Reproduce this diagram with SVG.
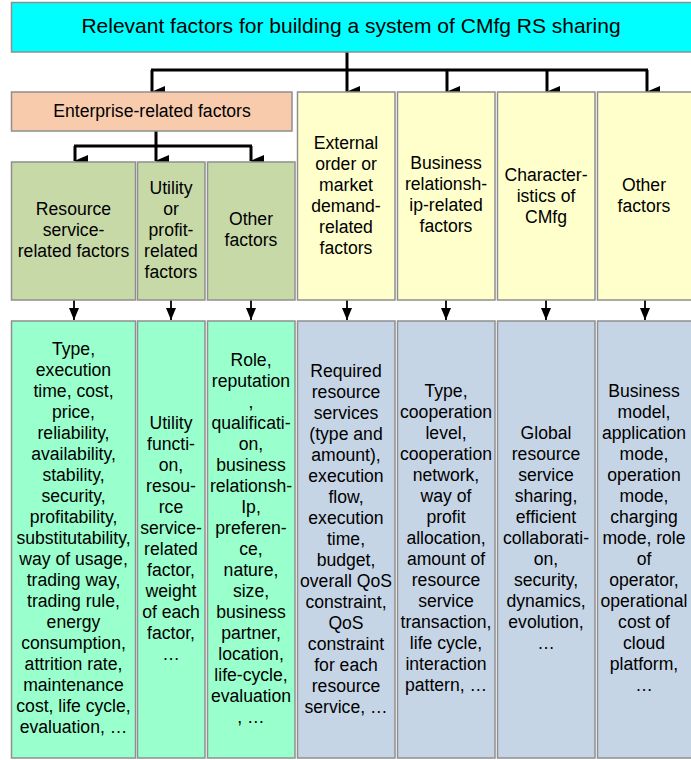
<svg xmlns="http://www.w3.org/2000/svg" width="691" height="760" viewBox="0 0 691 760">
<defs>
<marker id="ah" markerUnits="userSpaceOnUse" markerWidth="12" markerHeight="14" refX="6" refY="13" orient="auto-start-reverse" viewBox="0 0 12 14">
<path d="M0,0 L12,0 L6,14 Z" fill="#000"/>
</marker>
<marker id="ahs" markerUnits="userSpaceOnUse" markerWidth="10" markerHeight="12" refX="5" refY="12" viewBox="0 0 10 12">
<path d="M0,0 L10,0 L5,12 Z" fill="#000"/>
</marker>
</defs>
<style>
.box{stroke:#8f8f8f;stroke-width:1.5}
.top{fill:#00FFFF}
.ent{fill:#F8CBAD}
.olv{fill:#C8D9A8}
.yel{fill:#FFFFCC}
.mint{fill:#99FFCC}
.blu{fill:#C6D5E6}
text{font-family:"Liberation Sans",Arial,sans-serif;font-size:17.6px;fill:#000;text-anchor:middle}
.t1{font-size:21px}
.c{fill:none;stroke:#000;stroke-width:3}
.cs{fill:none;stroke:#000;stroke-width:1.8}
</style>
<rect width="691" height="760" fill="#fff"/>

<g id="connectors">
<path class="c" d="M347,52 V70 M151,70 H648 M156,131 V146 M74,146 H252"/>
<path class="c" marker-end="url(#ah)" d="M152,70 V92"/>
<path class="c" marker-end="url(#ah)" d="M347,70 V92"/>
<path class="c" marker-end="url(#ah)" d="M447,70 V92"/>
<path class="c" marker-end="url(#ah)" d="M547,70 V92"/>
<path class="c" marker-end="url(#ah)" d="M647,70 V92"/>
<path class="c" marker-end="url(#ah)" d="M75,146 V161"/>
<path class="c" marker-end="url(#ah)" d="M156,146 V161"/>
<path class="c" marker-end="url(#ah)" d="M251,146 V161"/>
<path class="cs" marker-end="url(#ahs)" d="M74,300 V320"/>
<path class="cs" marker-end="url(#ahs)" d="M171,300 V320"/>
<path class="cs" marker-end="url(#ahs)" d="M251,300 V320"/>
<path class="cs" marker-end="url(#ahs)" d="M347,300 V320"/>
<path class="cs" marker-end="url(#ahs)" d="M446,300 V320"/>
<path class="cs" marker-end="url(#ahs)" d="M546,300 V320"/>
<path class="cs" marker-end="url(#ahs)" d="M645,300 V320"/>
</g>

<g id="root">
<rect class="box top" x="11.5" y="2.5" width="690" height="49.5"/>
<text class="t1" x="351" y="33">Relevant factors for building a system of CMfg RS sharing</text>
</g>

<g id="enterprise">
<rect class="box ent" x="11.5" y="92" width="280.5" height="39"/>
<text x="152" y="117">Enterprise-related factors</text>
</g>

<g id="resource-service">
<rect class="box olv" x="11.5" y="162" width="124" height="138"/>
<text x="73.5" y="215"><tspan x="73.5">Resource</tspan><tspan x="73.5" dy="21">service-</tspan><tspan x="73.5" dy="21">related factors</tspan></text>
</g>

<g id="utility">
<rect class="box olv" x="137.5" y="162" width="67.5" height="138"/>
<text x="171" y="194"><tspan x="171">Utility</tspan><tspan x="171" dy="21">or</tspan><tspan x="171" dy="21">profit-</tspan><tspan x="171" dy="21">related</tspan><tspan x="171" dy="21">factors</tspan></text>
</g>

<g id="ent-other">
<rect class="box olv" x="207.5" y="162" width="87.5" height="138"/>
<text x="251" y="225"><tspan x="251">Other</tspan><tspan x="251" dy="21">factors</tspan></text>
</g>

<g id="external">
<rect class="box yel" x="297.5" y="92" width="97.5" height="208"/>
<text x="346" y="149"><tspan x="346">External</tspan><tspan x="346" dy="21">order or</tspan><tspan x="346" dy="21">market</tspan><tspan x="346" dy="21">demand-</tspan><tspan x="346" dy="21">related</tspan><tspan x="346" dy="21">factors</tspan></text>
</g>

<g id="business">
<rect class="box yel" x="397.5" y="92" width="97.5" height="208"/>
<text x="446" y="169"><tspan x="446">Business</tspan><tspan x="446" dy="21">relationsh-</tspan><tspan x="446" dy="21">ip-related</tspan><tspan x="446" dy="21">factors</tspan></text>
</g>

<g id="characteristics">
<rect class="box yel" x="497.5" y="92" width="97.5" height="208"/>
<text x="546" y="181"><tspan x="546">Character-</tspan><tspan x="546" dy="21">istics of</tspan><tspan x="546" dy="21">CMfg</tspan></text>
</g>

<g id="other">
<rect class="box yel" x="597.5" y="92" width="100" height="208"/>
<text x="644" y="191"><tspan x="644">Other</tspan><tspan x="644" dy="21">factors</tspan></text>
</g>

<g id="d-resource">
<rect class="box mint" x="11.5" y="321" width="124" height="437"/>
<text x="73.5" y="355"><tspan x="73.5">Type,</tspan><tspan x="73.5" dy="21">execution</tspan><tspan x="73.5" dy="21">time, cost,</tspan><tspan x="73.5" dy="21">price,</tspan><tspan x="73.5" dy="21">reliability,</tspan><tspan x="73.5" dy="21">availability,</tspan><tspan x="73.5" dy="21">stability,</tspan><tspan x="73.5" dy="21">security,</tspan><tspan x="73.5" dy="21">profitability,</tspan><tspan x="73.5" dy="21">substitutability,</tspan><tspan x="73.5" dy="21">way of usage,</tspan><tspan x="73.5" dy="21">trading way,</tspan><tspan x="73.5" dy="21">trading rule,</tspan><tspan x="73.5" dy="21">energy</tspan><tspan x="73.5" dy="21">consumption,</tspan><tspan x="73.5" dy="21">attrition rate,</tspan><tspan x="73.5" dy="21">maintenance</tspan><tspan x="73.5" dy="21">cost, life cycle,</tspan><tspan x="73.5" dy="21">evaluation, …</tspan></text>
</g>

<g id="d-utility">
<rect class="box mint" x="137.5" y="321" width="67.5" height="437"/>
<text x="171" y="429"><tspan x="171">Utility</tspan><tspan x="171" dy="21">functi-</tspan><tspan x="171" dy="21">on,</tspan><tspan x="171" dy="21">resou-</tspan><tspan x="171" dy="21">rce</tspan><tspan x="171" dy="21">service-</tspan><tspan x="171" dy="21">related</tspan><tspan x="171" dy="21">factor,</tspan><tspan x="171" dy="21">weight</tspan><tspan x="171" dy="21">of each</tspan><tspan x="171" dy="21">factor,</tspan><tspan x="171" dy="21">…</tspan></text>
</g>

<g id="d-ent-other">
<rect class="box mint" x="207.5" y="321" width="87.5" height="437"/>
<text x="251" y="366"><tspan x="251">Role,</tspan><tspan x="251" dy="21">reputation</tspan><tspan x="251" dy="21">,</tspan><tspan x="251" dy="21">qualificati-</tspan><tspan x="251" dy="21">on,</tspan><tspan x="251" dy="21">business</tspan><tspan x="251" dy="21">relationsh-</tspan><tspan x="251" dy="21">Ip,</tspan><tspan x="251" dy="21">preferen-</tspan><tspan x="251" dy="21">ce,</tspan><tspan x="251" dy="21">nature,</tspan><tspan x="251" dy="21">size,</tspan><tspan x="251" dy="21">business</tspan><tspan x="251" dy="21">partner,</tspan><tspan x="251" dy="21">location,</tspan><tspan x="251" dy="21">life-cycle,</tspan><tspan x="251" dy="21">evaluation</tspan><tspan x="251" dy="21">, …</tspan></text>
</g>

<g id="d-external">
<rect class="box blu" x="297.5" y="321" width="97.5" height="437"/>
<text x="346" y="377"><tspan x="346">Required</tspan><tspan x="346" dy="21">resource</tspan><tspan x="346" dy="21">services</tspan><tspan x="346" dy="21">(type and</tspan><tspan x="346" dy="21">amount),</tspan><tspan x="346" dy="21">execution</tspan><tspan x="346" dy="21">flow,</tspan><tspan x="346" dy="21">execution</tspan><tspan x="346" dy="21">time,</tspan><tspan x="346" dy="21">budget,</tspan><tspan x="346" dy="21">overall QoS</tspan><tspan x="346" dy="21">constraint,</tspan><tspan x="346" dy="21">QoS</tspan><tspan x="346" dy="21">constraint</tspan><tspan x="346" dy="21">for each</tspan><tspan x="346" dy="21">resource</tspan><tspan x="346" dy="21">service, …</tspan></text>
</g>

<g id="d-business">
<rect class="box blu" x="397.5" y="321" width="97.5" height="437"/>
<text x="446" y="397"><tspan x="446">Type,</tspan><tspan x="446" dy="21">cooperation</tspan><tspan x="446" dy="21">level,</tspan><tspan x="446" dy="21">cooperation</tspan><tspan x="446" dy="21">network,</tspan><tspan x="446" dy="21">way of</tspan><tspan x="446" dy="21">profit</tspan><tspan x="446" dy="21">allocation,</tspan><tspan x="446" dy="21">amount of</tspan><tspan x="446" dy="21">resource</tspan><tspan x="446" dy="21">service</tspan><tspan x="446" dy="21">transaction,</tspan><tspan x="446" dy="21">life cycle,</tspan><tspan x="446" dy="21">interaction</tspan><tspan x="446" dy="21">pattern, …</tspan></text>
</g>

<g id="d-characteristics">
<rect class="box blu" x="497.5" y="321" width="97.5" height="437"/>
<text x="546" y="439"><tspan x="546">Global</tspan><tspan x="546" dy="21">resource</tspan><tspan x="546" dy="21">service</tspan><tspan x="546" dy="21">sharing,</tspan><tspan x="546" dy="21">efficient</tspan><tspan x="546" dy="21">collaborati-</tspan><tspan x="546" dy="21">on,</tspan><tspan x="546" dy="21">security,</tspan><tspan x="546" dy="21">dynamics,</tspan><tspan x="546" dy="21">evolution,</tspan><tspan x="546" dy="21">…</tspan></text>
</g>

<g id="d-other">
<rect class="box blu" x="597.5" y="321" width="100" height="437"/>
<text x="644" y="397"><tspan x="644">Business</tspan><tspan x="644" dy="21">model,</tspan><tspan x="644" dy="21">application</tspan><tspan x="644" dy="21">mode,</tspan><tspan x="644" dy="21">operation</tspan><tspan x="644" dy="21">mode,</tspan><tspan x="644" dy="21">charging</tspan><tspan x="644" dy="21">mode, role</tspan><tspan x="644" dy="21">of</tspan><tspan x="644" dy="21">operator,</tspan><tspan x="644" dy="21">operational</tspan><tspan x="644" dy="21">cost of</tspan><tspan x="644" dy="21">cloud</tspan><tspan x="644" dy="21">platform,</tspan><tspan x="644" dy="21">…</tspan></text>
</g>
</svg>
